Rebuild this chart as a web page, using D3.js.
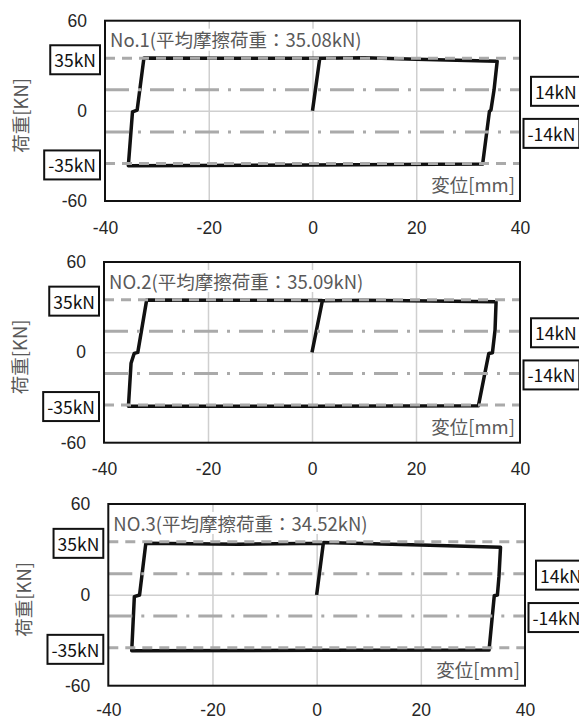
<!DOCTYPE html>
<html>
<head>
<meta charset="utf-8">
<script src="https://cdn.jsdelivr.net/npm/d3@7"></script>
<style>
body { margin: 0; background: #fff; }
svg { display: block; font-family: "Noto Sans CJK JP", "Noto Sans", sans-serif; }
.tick text { font-size: 17.5px; fill: #262626; }
.grid line { stroke: #cfcfcf; stroke-width: 1.5; }
</style>
</head>
<body>
<svg width="579" height="720"></svg>
<script>
const titles = ["No.1(平均摩擦荷重：35.08kN)", "NO.2(平均摩擦荷重：35.09kN)", "NO.3(平均摩擦荷重：34.52kN)"]
const xTicks = [-40, -20, 0, 20, 40]
const yTicks = [-60, 0, 60]
const refLevels = [35, 14, -14, -35]
const refLabels = ["35kN", "14kN", "-14kN", "-35kN"]

// hysteresis loops, [displacement mm, load kN]
const loop1 = [[0,0],[1.4,35],[10,35.3],[20,34.4],[35.6,33],[35.0,14],[34.4,0.5],[34.1,-0.5],[32.8,-35.4],
               [0,-36],[-35.5,-36.5],[-34.7,-0.7],[-33.8,0.5],[-32.5,35.1],[-15,35],[1.4,35]]
const loop2 = [[0,0],[2.0,34.3],[10,34.6],[35.4,33.6],[35.2,14.8],[34.7,-0.3],[34.0,-0.7],[32.0,-35.5],
               [0,-35.8],[-35.3,-35.8],[-34.8,-7.3],[-34.2,-0.7],[-33.5,0],[-31.8,34.7],[-10,34.6],[2.0,34.5]]
const loop3 = [[0,0],[1.3,34.6],[20,32.9],[35.3,31.4],[35.0,12],[34.7,-0.1],[34.1,-0.6],[33.1,-36.5],
               [0,-36.6],[-35.5,-36.9],[-35.0,-1.2],[-34.0,-0.1],[-32.8,34.0],[-15,33.4],[1.3,34.0]]
const loops = [loop1, loop2, loop3]

const svg = d3.select("svg")

// plot frames of the three panels
const frames = [
  {left: 105, right: 520, top: 20.7, bottom: 201, xPad: 21},
  {left: 104, right: 520, top: 262, bottom: 442.7, xPad: 20},
  {left: 108.3, right: 525, top: 504, bottom: 685.7, xPad: 18}
]

// plain hyphen minus like the original, not d3's U+2212
const fmt = d => String(d)

frames.forEach(function (f, i) {
  const x = d3.scaleLinear().domain([-40, 40]).range([f.left, f.right]),
        y = d3.scaleLinear().domain([-60, 60]).range([f.bottom, f.top])
  const g = svg.append("g")

  //gridlines
  g.append("g").attr("class", "grid").attr("transform", "translate(0," + f.bottom + ")")
    .call(d3.axisBottom(x).tickValues([-20, 0, 20]).tickSize(-(f.bottom - f.top)).tickFormat(""))
    .call(a => a.select(".domain").remove())
  g.append("g").attr("class", "grid").attr("transform", "translate(" + f.left + ",0)")
    .call(d3.axisLeft(y).tickValues([0]).tickSize(-(f.right - f.left)).tickFormat(""))
    .call(a => a.select(".domain").remove())

  //title with white box behind it
  const title = g.append("text")
    .attr("x", f.left + 5).attr("y", f.top + 18.5)
    .attr("dominant-baseline", "central")
    .style("font-size", "18.5px").style("fill", "#595959")
    .text(titles[i])
  const tb = title.node().getBBox()
  g.insert("rect", () => title.node()).attr("x", tb.x - 2).attr("y", f.top + 8).attr("width", tb.width + 4).attr("height", 22).style("fill", "#fff")

  //loop
  const line = d3.line().x(d => x(d[0])).y(d => y(d[1]))
  g.append("path").datum(loops[i]).attr("d", line)
    .style("fill", "none").style("stroke", "#111").style("stroke-width", 3.5).style("stroke-linejoin", "round")

  //reference lines drawn over the loop
  g.selectAll(".ref").data(refLevels).enter().append("line")
    .attr("class", "ref")
    .attr("x1", x(-40)).attr("x2", x(40))
    .attr("y1", d => y(d)).attr("y2", d => y(d))
    .style("stroke", "#aaa").style("stroke-width", 3)
    .style("stroke-dasharray", d => Math.abs(d) > 20 ? "10,7" : "24,9,3,9")

  //frame
  g.append("rect").attr("x", f.left).attr("y", f.top).attr("width", f.right - f.left).attr("height", f.bottom - f.top)
    .style("fill", "none").style("stroke", "#111").style("stroke-width", 2)

  //axes
  g.append("g").attr("transform", "translate(" + f.left + ",0)")
    .call(d3.axisLeft(y).tickValues(yTicks).tickSize(0).tickPadding(18).tickFormat(fmt))
    .call(a => a.select(".domain").remove())
  g.append("g").attr("transform", "translate(0," + f.bottom + ")")
    .call(d3.axisBottom(x).tickValues(xTicks).tickSize(0).tickPadding(f.xPad).tickFormat(fmt))
    .call(a => a.select(".domain").remove())

  g.append("text")
    .attr("transform", "translate(" + (f.left - 85) + "," + ((f.top + f.bottom) / 2 + 4.5) + ") rotate(-90)")
    .attr("text-anchor", "middle").attr("dominant-baseline", "central")
    .style("font-size", "18.5px").style("fill", "#595959")
    .text("荷重[KN]")

  g.append("text")
    .attr("x", f.right - 5).attr("y", f.bottom - 17)
    .attr("text-anchor", "end").attr("dominant-baseline", "central")
    .style("font-size", "18.5px").style("fill", "#595959")
    .text("変位[mm]")

  //boxed labels: ±35 on the left, ±14 on the right
  refLevels.forEach(function (v, k) {
    const left = Math.abs(v) > 20
    const lab = g.append("text")
      .attr("y", y(v) + 1.5)
      .attr("dominant-baseline", "central")
      .style("font-size", "17.5px").style("fill", "#111")
      .text(refLabels[k])
    if (left) {
      lab.attr("text-anchor", "end").attr("x", f.left - 9)
    } else {
      lab.attr("x", f.right + (v > 0 ? 15 : 7.5))
    }
    const b = lab.node().getBBox()
    g.insert("rect", () => lab.node())
      .attr("x", b.x - 4).attr("y", y(v) + 1.5 - 14.5)
      .attr("width", b.width + 8).attr("height", 29)
      .style("fill", "#fff").style("stroke", "#111").style("stroke-width", 2)
  })
})
</script>
</body>
</html>
